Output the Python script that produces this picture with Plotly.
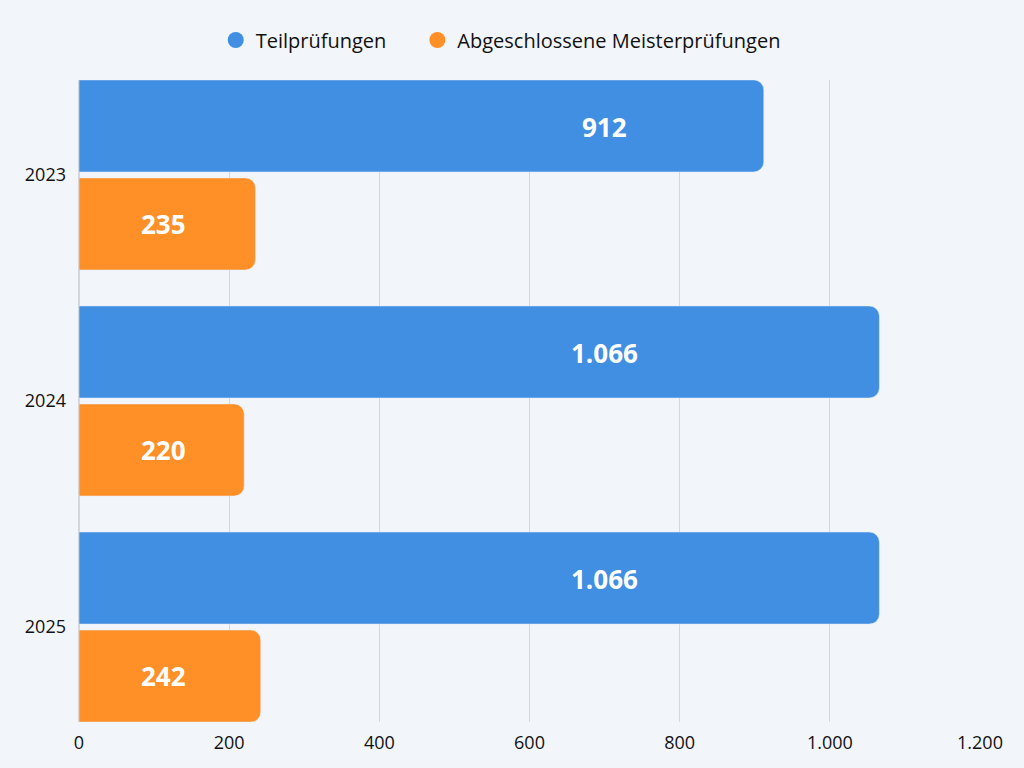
import plotly.graph_objects as go

YEARS = ["2023", "2024", "2025"]
TEIL = [912, 1066, 1066]
MEISTER = [235, 220, 242]
X_TICKS = [0, 200, 400, 600, 800, 1000, 1200]

BLUE = "#418FE3"
ORANGE = "#FF8F27"
BG = "#F2F5FA"
FONT = "Open Sans"


def de_num(v):
    return f"{v:,}".replace(",", ".")


fig = go.Figure()

fig.add_trace(go.Bar(y=YEARS, x=TEIL, orientation="h", marker=dict(color=BLUE, cornerradius=10),
                     showlegend=False, hoverinfo="x"))
fig.add_trace(go.Bar(y=YEARS, x=MEISTER, orientation="h", marker=dict(color=ORANGE, cornerradius=10),
                     showlegend=False, hoverinfo="x"))

# legend entries with round markers (nbsp padding widens the gap between items)
fig.add_trace(go.Scatter(x=[None], y=[None], mode="markers", name="Teilprüfungen" + "\u00a0" * 5,
                         marker=dict(color=BLUE, size=20, symbol="circle")))
fig.add_trace(go.Scatter(x=[None], y=[None], mode="markers", name="Abgeschlossene Meisterprüfungen",
                         marker=dict(color=ORANGE, size=20, symbol="circle")))

# value labels sit at fixed spots inside the bars (y as category index,
# because "2023" would be read as a number)
for i, (t, m) in enumerate(zip(TEIL, MEISTER)):
    fig.add_annotation(x=700, y=i, text=f"<b>{de_num(t)}</b>", showarrow=False, yshift=48,
                       font=dict(size=26, color="white", family=FONT))
    fig.add_annotation(x=112, y=i, text=f"<b>{de_num(m)}</b>", showarrow=False, yshift=-49,
                       font=dict(size=26, color="white", family=FONT))

fig.update_layout(
    width=1024, height=768,
    paper_bgcolor=BG, plot_bgcolor=BG,
    font=dict(family=FONT, size=18, color="#111111"),
    separators=",.",
    barmode="group", bargap=0.133, bargroupgap=0.061,
    margin=dict(l=79, r=44, t=80, b=46),
    legend=dict(orientation="h", x=0.489, xanchor="center", xref="container",
                y=1 - 40 / 768, yanchor="middle", yref="container",
                font=dict(size=20), itemsizing="trace", bgcolor="rgba(0,0,0,0)"),
)
fig.update_xaxes(range=[0, 1200], tickvals=X_TICKS, ticktext=[de_num(v) for v in X_TICKS],
                 showgrid=True, gridcolor="#D3D6DB", gridwidth=1, zeroline=True,
                 zerolinecolor="#D3D6DB", ticks="", ticklabelstandoff=8, fixedrange=True)
fig.update_yaxes(type="category", range=[2.42, -0.42], showgrid=False, ticks="",
                 ticklabelstandoff=12, fixedrange=True)

fig.write_html("out.html", config={"displayModeBar": False},
               post_script="document.body.style.margin='0';")
